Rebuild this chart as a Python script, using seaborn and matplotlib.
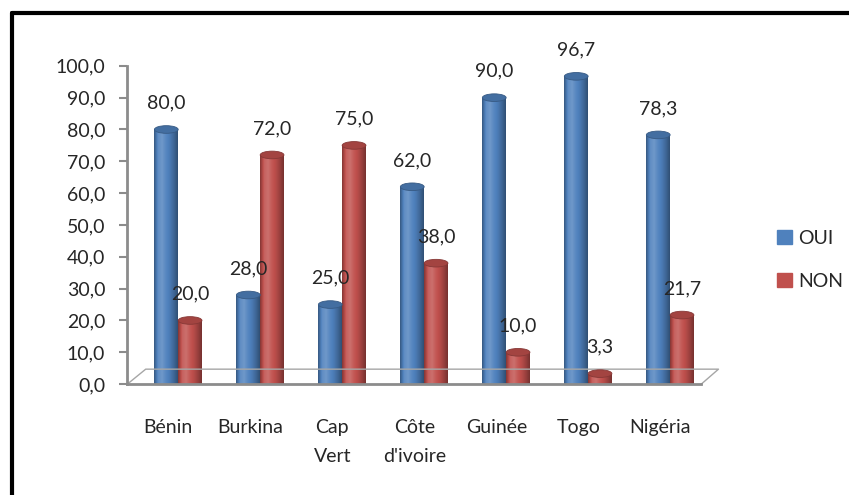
import matplotlib
matplotlib.use("Agg")
import matplotlib.pyplot as plt
import matplotlib.patches as mpatches
from matplotlib.lines import Line2D
import seaborn as sns
import pandas as pd
import numpy as np

# data
pays = ['Bénin', 'Burkina', 'Cap\nVert', "Côte\nd'ivoire", 'Guinée', 'Togo', 'Nigéria']
oui = [80.0, 28.0, 25.0, 62.0, 90.0, 96.7, 78.3]
non = [20.0, 72.0, 75.0, 38.0, 10.0, 3.3, 21.7]
series = ['OUI', 'NON']
couleurs = ['#4F81BD', '#C0504D']

df = pd.DataFrame({
    'Pays': pays * 2,
    'Reponse': ['OUI'] * len(pays) + ['NON'] * len(pays),
    'Valeur': oui + non,
})

sns.set_style('white')
plt.rcParams['font.family'] = ['Lato', 'DejaVu Sans']

fig = plt.figure(figsize=(8.49, 4.95), dpi=100)
ax = fig.add_axes([0.150, 0.224, 0.676, 0.643])

sns.barplot(data=df, x='Pays', y='Valeur', hue='Reponse', palette=couleurs,
            width=0.58, ax=ax, legend=False, saturation=1)

# cylinder look: horizontal gradient + elliptic caps
def shade(hexcol, f):
    c = np.array(matplotlib.colors.to_rgb(hexcol))
    if f >= 1:
        return c + (1 - c) * (f - 1)
    return c * f

decal = 0.12  # 3d depth pushes the cylinders a bit to the right
for k, cont in enumerate(ax.containers):
    base = couleurs[k]
    prof = [0.70, 1.10, 1.18, 1.05, 0.95, 0.80, 0.62]
    grad = np.array([[shade(base, f) for f in np.interp(np.linspace(0, 1, 40), np.linspace(0, 1, len(prof)), prof)]])
    grad = np.clip(grad, 0, 1)
    for bar in cont:
        bar.set_x(bar.get_x() + decal)
        x0, w, h = bar.get_x(), bar.get_width(), bar.get_height()
        im = ax.imshow(grad, extent=[x0, x0 + w, 0, h], aspect='auto', zorder=2)
        im.set_clip_path(bar)
        bar.set_edgecolor('none')
        cap = mpatches.Ellipse((x0 + w / 2, h), w, 2.4, facecolor=shade(base, 0.85),
                               edgecolor=shade(base, 0.7), lw=0.6, zorder=3)
        ax.add_patch(cap)
        bot = mpatches.Ellipse((x0 + w / 2, 0), w, 2.4, facecolor=shade(base, 0.9),
                               edgecolor='none', zorder=1.9)
        ax.add_patch(bot)
        ax.annotate(f'{h:.1f}'.replace('.', ','), (x0 + w / 2, h), xytext=(0, 15),
                    textcoords='offset points', ha='center', va='baseline', fontsize=14)

ax.set_xlim(-0.5, len(pays) - 0.5)
ax.set_ylim(0, 100)
ax.set_yticks(np.arange(0, 101, 10))
ax.set_yticklabels([f'{v:.1f}'.replace('.', ',') for v in np.arange(0, 101, 10)], fontsize=14)
ax.set_xticks(range(len(pays)))
ax.set_xticklabels(pays, fontsize=14, linespacing=1.85, va='top')
ax.set_xticks(np.arange(-0.5, len(pays), 1), minor=True)
ax.tick_params(axis='x', which='major', length=0, pad=25)
ax.tick_params(axis='x', which='minor', length=7, color='#8c8c8c', width=1.5, direction='out')
ax.tick_params(axis='y', length=6, color='#8c8c8c', width=1.5, direction='out', left=True, pad=10)
ax.set_xlabel('')
ax.set_ylabel('')
for s in ['top', 'right']:
    ax.spines[s].set_visible(False)
for s in ['left', 'bottom']:
    ax.spines[s].set_color('#8c8c8c')
    ax.spines[s].set_linewidth(2)

# 3d floor outline
tr = ax.transAxes
floor_x = [0.0, 0.032, 1.03, 1.0]
floor_y = [0.0, 0.047, 0.047, 0.0]
ax.add_line(Line2D(floor_x, floor_y, transform=tr, color='#a6a6a6', lw=1, clip_on=False))

handles = [mpatches.Patch(color=c, label=s) for c, s in zip(couleurs, series)]
fig.legend(handles=handles, loc='center left', bbox_to_anchor=(0.895, 0.475), frameon=False,
           fontsize=14, handlelength=0.75, handleheight=0.75, handletextpad=0.3, labelspacing=1.35)

# outer frame (top and left only visible)
fig.add_artist(Line2D([0.014, 1.0], [0.973, 0.973], color='black', lw=3, transform=fig.transFigure))
fig.add_artist(Line2D([0.014, 0.014], [0.0, 0.973], color='black', lw=3, transform=fig.transFigure))

fig.savefig('out.png', dpi=100)
